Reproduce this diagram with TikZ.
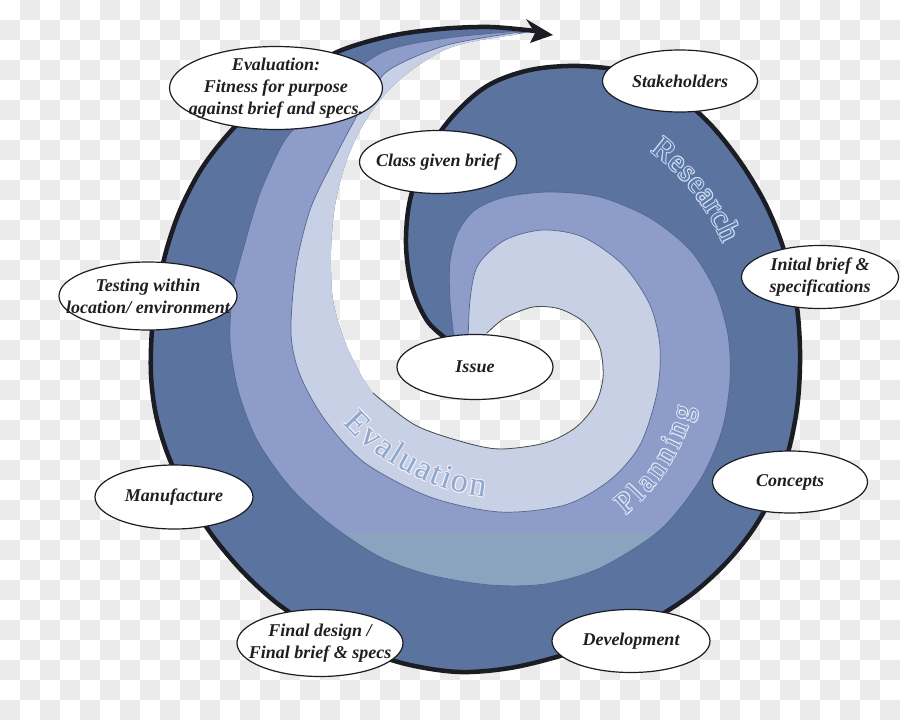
\documentclass[tikz,border=0pt]{standalone}
\usepackage{fontspec}
\setmainfont{Liberation Serif}
\usetikzlibrary{shapes.geometric,decorations.text}
\definecolor{bandD}{HTML}{5A739F}
\definecolor{bandL}{HTML}{8D9CC8}
\definecolor{bandT}{HTML}{8AA4BF}
\definecolor{bandW}{HTML}{C8D0E5}
\definecolor{chk}{HTML}{EBEBEB}
\definecolor{edgeC}{HTML}{1C1C24}
\definecolor{bandLine}{HTML}{55668F}
\definecolor{haloR}{HTML}{D2DCEE}
\definecolor{haloP}{HTML}{E2E8F4}
\definecolor{haloE}{HTML}{EEF1F8}
\definecolor{fillR}{HTML}{5A7AB0}
\definecolor{fillP}{HTML}{8697C8}
\definecolor{fillE}{HTML}{8FA6CE}
\newcommand{\outerEdge}{plot[smooth,tension=0.55] coordinates {(452,343) (428,322) (412,287) (406,245) (410,200) (426,155) (452,117) (487,86) (530,70) (580,66) (632,73) (675,94) (710,124) (741,163) (766,205) (784,250) (796,300) (800,350) (798,400) (790,445) (776,488) (754,528) (726,563) (692,594) (652,620) (608,640) (560,656) (510,668) (460,672) (410,665) (362,650) (318,630) (278,604) (243,572) (212,535) (187,495) (168,455) (156,415) (151,375) (152,330) (158,288) (167,248) (181,208) (202,168) (230,132) (263,100) (300,72) (342,50) (390,36) (440,29) (490,27) (535,31)}}
\newcommand{\gapEdge}{-- plot[smooth,tension=0.5] coordinates {(513,35) (470,42) (440,52) (405,75) (380,100) (360,130) (345,165) (335,205) (331,250) (333,300) (347,347) (373,393) (415,425) (463,442) (500,449) (545,443) (575,428) (595,405) (603,378) (600,348) (585,323) (560,309) (533,307) (505,318) (487,333) (470,345)}}
\newcommand{\lavEdge}{plot[smooth,tension=0.5] coordinates {(455,346) (450,300) (450,262) (458,232) (475,210) (505,197) (550,192) (600,197) (650,218) (690,250) (715,290) (728,335) (730,380) (722,430) (700,480) (660,530) (600,568) (545,584) (490,585) (430,575) (380,557) (330,524) (290,487) (257,440) (238,390) (230,340) (233,290) (243,250) (260,193) (283,143) (300,123) (335,88) (383,52) (447,38) (520,31)}}
\newcommand{\liteEdge}{plot[smooth,tension=0.5] coordinates {(468,346) (470,300) (478,265) (505,240) (543,230) (583,237) (623,265) (650,305) (660,347) (657,393) (640,445) (610,480) (565,505) (500,512) (430,497) (365,463) (325,420) (300,375) (291,333) (296,267) (310,210) (330,167) (353,123) (372,90) (392,68) (447,45) (520,32)}}
\newcommand{\routeBack}{-- (470,70) -- (420,110) -- (372,200) -- (372,280) -- (392,340) -- (440,362)}
\tikzset{
  bub/.style={ellipse, draw=edgeC, line width=1.2pt, fill=white, inner sep=0pt},
  lbl/.style={font=\fontsize{18}{22}\selectfont\bfseries\itshape, align=center, text=black!88, inner sep=0pt},
  arcword/.style n args={3}{decorate, decoration={text along path, text={|\fontsize{#2}{#2}\selectfont|#1}, text color=#3, text align=fit to path}}
}
\begin{document}
\begin{tikzpicture}[x=1pt,y=-1pt]
\useasboundingbox (0,0) rectangle (900,720);
% background checkerboard
\fill[white] (0,0) rectangle (900,720);
\foreach \j in {0,...,35}{
  \pgfmathtruncatemacro{\s}{mod(\j+1,2)}
  \foreach \i in {0,...,22}{
    \fill[chk] ({20*\s+40*\i},{20*\j}) rectangle ++(20,20);
  }
}
% spiral bands
\begin{scope}
  \clip \outerEdge \gapEdge -- cycle;
  \fill[bandD] (0,0) rectangle (900,720);
  \fill[bandL] \lavEdge \routeBack -- cycle;
  \begin{scope}
    \clip \lavEdge \routeBack -- cycle;
    \fill[bandT] (0,533) rectangle (900,720);
  \end{scope}
  \fill[bandW] \liteEdge \routeBack -- cycle;
  \draw[bandLine, line width=0.7pt] \lavEdge;
  \draw[bandLine, line width=0.7pt] \liteEdge;
\end{scope}
% hole rim
\draw[black!70, line width=0.8pt] plot[smooth,tension=0.5] coordinates {(373,393) (415,425) (463,442) (500,449) (545,443) (575,428) (595,405) (603,378) (600,348) (585,323) (560,309) (533,307) (505,318) (487,333)};
% outer black edge and arrow head
\draw[edgeC, line width=4.5pt, line cap=round, line join=round] \outerEdge;
\fill[edgeC] (526,19) -- (553,35) -- (530,43) -- (535,33) -- cycle;
% curved band names: light rim copies, then the filled letters
\foreach \dx/\dy in {1/0,-1/0,0/1,0/-1,0.7/0.7,-0.7/0.7,0.7/-0.7,-0.7/-0.7}{
  \path[xshift=\dx pt, yshift=\dy pt, arcword={Research}{31}{haloR}] plot[domain=-54:-23, samples=40] ({520+221*cos(\x)},{330+221*sin(\x)});
  \path[xshift=\dx pt, yshift=\dy pt, arcword={Planning}{30}{haloP}] plot[domain=51:14, samples=40] ({500+200*cos(\x)},{360+200*sin(\x)});
  \path[xshift=\dx pt, yshift=\dy pt, arcword={Evaluation}{34}{haloE}] (343,423) .. controls (370,455) and (425,490) .. (485,497);
}
\path[arcword={Research}{31}{fillR}] plot[domain=-54:-23, samples=40] ({520+221*cos(\x)},{330+221*sin(\x)});
\path[arcword={Planning}{30}{fillP}] plot[domain=51:14, samples=40] ({500+200*cos(\x)},{360+200*sin(\x)});
\path[arcword={Evaluation}{34}{fillE}] (343,423) .. controls (370,455) and (425,490) .. (485,497);
% ellipse nodes
\node[bub, minimum width=213pt, minimum height=83pt, label={[lbl]center:{Evaluation:\\Fitness for purpose\\against brief and specs.}}] (nEval) at (276,88) {};
\node[bub, minimum width=157pt, minimum height=63pt, label={[lbl]center:{Class given brief}}] (nClass) at (438,162) {};
\node[bub, minimum width=155pt, minimum height=62pt, label={[lbl]center:{Stakeholders}}] (nStake) at (680,81) {};
\node[bub, minimum width=157pt, minimum height=63pt, label={[lbl]center:{Inital brief \&\\specifications}}] (nInit) at (820,277) {};
\node[bub, minimum width=178pt, minimum height=68pt, label={[lbl]center:{Testing within\\location/ environment}}] (nTest) at (148,296) {};
\node[bub, minimum width=156pt, minimum height=65pt, label={[lbl]center:{Issue}}] (nIssue) at (475,367) {};
\node[bub, minimum width=155pt, minimum height=62pt, label={[lbl]center:{Concepts}}] (nConc) at (790,482) {};
\node[bub, minimum width=158pt, minimum height=64pt, label={[lbl]center:{Manufacture}}] (nManu) at (174,497) {};
\node[bub, minimum width=166pt, minimum height=67pt, label={[lbl]center:{Final design /\\Final brief \& specs}}] (nFinal) at (320,643) {};
\node[bub, minimum width=158pt, minimum height=63pt, label={[lbl]center:{Development}}] (nDev) at (631,641) {};
\end{tikzpicture}
\end{document}
